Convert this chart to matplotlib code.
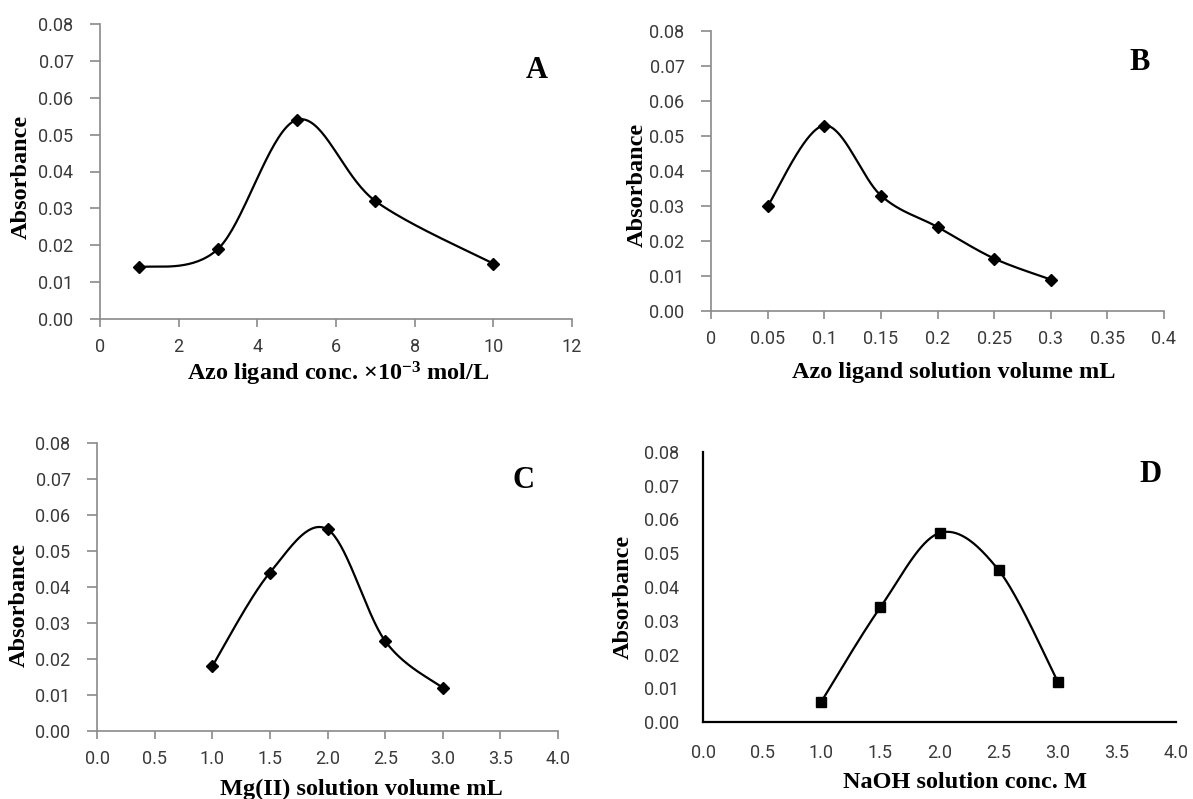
import numpy as np
import matplotlib
matplotlib.use("Agg")
import matplotlib.pyplot as plt

# ==============================
# DATOS
# ==============================

conc_azo = [1, 3, 5, 7, 10]
abs_conc_azo = [0.014, 0.019, 0.054, 0.032, 0.015]

vol_azo = [0.05, 0.10, 0.15, 0.20, 0.25, 0.30]
abs_vol_azo = [0.030, 0.053, 0.033, 0.024, 0.015, 0.009]

vol_mg = [1.0, 1.5, 2.0, 2.5, 3.0]
abs_vol_mg = [0.018, 0.044, 0.056, 0.025, 0.012]

conc_naoh = [1.0, 1.5, 2.0, 2.5, 3.0]
abs_conc_naoh = [0.006, 0.034, 0.056, 0.045, 0.012]

y_ticks = [0.00, 0.01, 0.02, 0.03, 0.04, 0.05, 0.06, 0.07, 0.08]
x_ticks_a = [0, 2, 4, 6, 8, 10, 12]
x_ticks_b = [0, 0.05, 0.1, 0.15, 0.2, 0.25, 0.3, 0.35, 0.4]
x_labels_b = ["0", "0.05", "0.1", "0.15", "0.2", "0.25", "0.3", "0.35", "0.4"]
x_ticks_cd = [0.0, 0.5, 1.0, 1.5, 2.0, 2.5, 3.0, 3.5, 4.0]

W, H = 1193, 799

plt.rcParams['mathtext.default'] = 'regular'

fig = plt.figure(figsize=(W / 100, H / 100), dpi=100)
fig.patch.set_facecolor("white")

TICK_FONT = dict(family="Roboto", size=13, color="#3a3a3a")
LABEL_FONT = dict(family="Liberation Serif", weight="bold", size=17.5, color="black")
LETTER_FONT = dict(family="Liberation Serif", weight="bold", size=22, color="black")


def caja(left, top, right, bottom):
    return [left / W, 1 - bottom / H, (right - left) / W, (bottom - top) / H]


def texto(x, y, s, rot=0, **kw):
    fig.text(x / W, 1 - y / H, s, ha="center", va="center", rotation=rot, **kw)


def suavizar(x, y, n=40):
    # curva suavizada estilo Excel (Catmull-Rom)
    p = np.column_stack([x, y]).astype(float)
    p = np.vstack([p[0], p, p[-1]])
    xs, ys = [], []
    t = np.linspace(0, 1, n)
    for i in range(1, len(p) - 2):
        p0, p1, p2, p3 = p[i - 1], p[i], p[i + 1], p[i + 2]
        c1 = p1 + (p2 - p0) / 6
        c2 = p2 - (p3 - p1) / 6
        pts = ((1 - t) ** 3)[:, None] * p1 + (3 * (1 - t) ** 2 * t)[:, None] * c1 \
            + (3 * (1 - t) * t ** 2)[:, None] * c2 + (t ** 3)[:, None] * p2
        xs.extend(pts[:, 0])
        ys.extend(pts[:, 1])
    return xs, ys


def panel(rect, x, y, xticks, xlabels, xlim, marker, gris=True):
    ax = fig.add_axes(rect)
    xs, ys = suavizar(x, y)
    ax.plot(xs, ys, color="black", lw=1.6, zorder=2)
    ms = 6.5 if marker == "D" else 7.5
    ax.plot(x, y, linestyle="none", marker=marker, ms=ms, color="black", zorder=3)
    ax.set_xlim(*xlim)
    ax.set_ylim(0, 0.08)
    ax.set_yticks(y_ticks)
    ax.set_yticklabels(["%.2f" % v for v in y_ticks], fontdict=TICK_FONT)
    ax.set_xticks(xticks)
    ax.set_xticklabels(xlabels, fontdict=TICK_FONT)
    for s in ["top", "right"]:
        ax.spines[s].set_visible(False)
    if gris:
        col = "#8a8a8a"
        for s in ["left", "bottom"]:
            ax.spines[s].set_color(col)
            ax.spines[s].set_linewidth(1.2)
        ax.tick_params(axis="y", length=7, width=1.2, color=col, pad=12)
        ax.tick_params(axis="x", length=6, width=1.2, color=col, pad=8)
    else:
        for s in ["left", "bottom"]:
            ax.spines[s].set_color("black")
            ax.spines[s].set_linewidth(1.6)
        ax.tick_params(axis="y", length=0, pad=17)
        ax.tick_params(axis="x", length=0, pad=16)
    ax.patch.set_alpha(0)
    return ax


# GRAFICA A
panel(caja(100, 24, 572, 319), conc_azo, abs_conc_azo, x_ticks_a,
      [str(v) for v in x_ticks_a], (0, 12), "D")
texto(338, 374, r"Azo ligand conc. ×10$^{-3}$ mol/L", **LABEL_FONT)
texto(21, 177, "Absorbance", rot=90, **LABEL_FONT)
texto(537, 70, "A", **LETTER_FONT)

# GRAFICA B
panel(caja(711, 31, 1164, 311), vol_azo, abs_vol_azo, x_ticks_b,
      x_labels_b, (0, 0.4), "D")
texto(954, 373, "Azo ligand solution volume mL", **LABEL_FONT)
texto(637, 185, "Absorbance", rot=90, **LABEL_FONT)
texto(1140, 62, "B", **LETTER_FONT)

# GRAFICA C
panel(caja(97, 443, 558, 731), vol_mg, abs_vol_mg, x_ticks_cd,
      ["%.1f" % v for v in x_ticks_cd], (0, 4), "D")
texto(361, 789, "Mg(II) solution volume mL", **LABEL_FONT)
texto(19, 605, "Absorbance", rot=90, **LABEL_FONT)
texto(523, 480, "C", **LETTER_FONT)

# GRAFICA D
panel(caja(703, 452, 1176, 722), conc_naoh, abs_conc_naoh, x_ticks_cd,
      ["%.1f" % v for v in x_ticks_cd], (0, 4), "s", gris=False)
texto(965, 783, "NaOH solution conc. M", **LABEL_FONT)
texto(623, 597, "Absorbance", rot=90, **LABEL_FONT)
texto(1151, 475, "D", **LETTER_FONT)

fig.savefig("out.png", dpi=100)
plt.close(fig)
